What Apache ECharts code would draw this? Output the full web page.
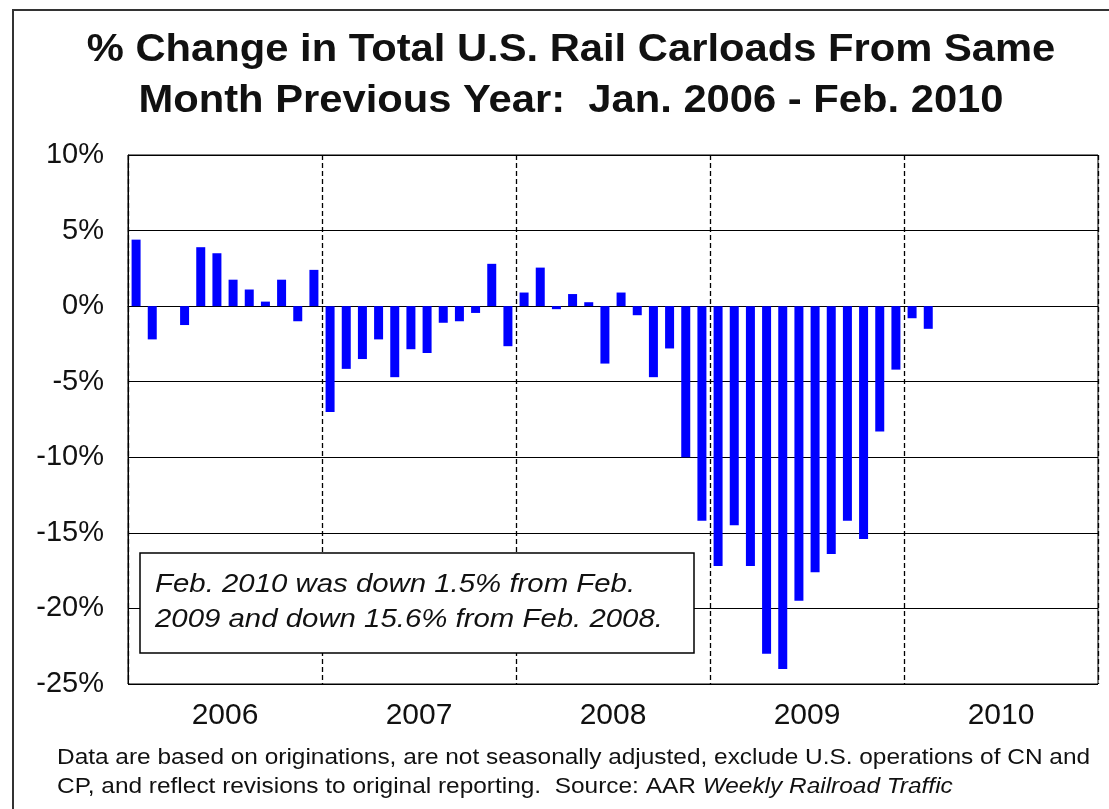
<!DOCTYPE html>
<html>
<head>
<meta charset="utf-8">
<title>% Change in Total U.S. Rail Carloads</title>
<script src="https://cdn.jsdelivr.net/npm/echarts@6/dist/echarts.min.js"></script>
<style>
  html, body { margin: 0; padding: 0; background: #ffffff; }
  #chart { width: 1109px; height: 809px; }
</style>
</head>
<body>
<div id="chart"></div>
<script>
// Year groups shown along the bottom axis
const years = ['2006', '2007', '2008', '2009', '2010'];
const monthNames = ['Jan', 'Feb', 'Mar', 'Apr', 'May', 'Jun', 'Jul', 'Aug', 'Sep', 'Oct', 'Nov', 'Dec'];

// % change in carloads vs. same month of the previous year
const pct2006 = [4.4, -2.2, 0.0, -1.25, 3.9, 3.5, 1.75, 1.1, 0.3, 1.75, -1.0, 2.4];
const pct2007 = [-7.0, -4.15, -3.5, -2.2, -4.7, -2.85, -3.1, -1.1, -1.0, -0.45, 2.8, -2.65];
const pct2008 = [0.9, 2.55, -0.2, 0.8, 0.26, -3.8, 0.9, -0.6, -4.7, -2.8, -10.0, -14.2];
const pct2009 = [-17.2, -14.5, -17.2, -23.0, -24.0, -19.5, -17.6, -16.4, -14.2, -15.4, -8.3, -4.2];
const pct2010 = [-0.8, -1.5, null, null, null, null, null, null, null, null, null, null];

// Y axis ticks
const yTicks = [-25, -20, -15, -10, -5, 0, 5, 10];

const titleLines = ['% Change in Total U.S. Rail Carloads From Same', 'Month Previous Year:  Jan. 2006 - Feb. 2010'];
const noteLines = ['Feb. 2010 was down 1.5% from Feb.', '2009 and down 15.6% from Feb. 2008.'];
const footLine1 = 'Data are based on originations, are not seasonally adjusted, exclude U.S. operations of CN and';
const footLine2 = 'CP, and reflect revisions to original reporting.  Source: AAR ';
const footSource = 'Weekly Railroad Traffic';

const months = [];
years.forEach(y => monthNames.forEach(m => months.push(m + ' ' + y)));
const values = [].concat(pct2006, pct2007, pct2008, pct2009, pct2010);

const FONT = '"Liberation Sans", Arial, Helvetica, sans-serif';
const chart = echarts.init(document.getElementById('chart'), null, { renderer: 'canvas' });

chart.setOption({
  backgroundColor: '#ffffff',
  animation: false,
  grid: {
    left: 128, right: 11, top: 155, bottom: 125,
    show: true, borderColor: '#000', borderWidth: 1, backgroundColor: 'transparent'
  },
  xAxis: [
    {
      type: 'category',
      data: months,
      boundaryGap: true,
      axisLine: { show: true, lineStyle: { color: '#000', width: 1 } },
      axisTick: { show: false },
      axisLabel: { show: false },
      splitLine: { show: false }
    },
    {
      type: 'category',
      data: years,
      position: 'bottom',
      boundaryGap: true,
      axisLine: { show: false },
      axisTick: { show: false },
      axisLabel: { show: true, interval: 0, margin: 17, fontSize: 30, color: '#111', fontFamily: FONT },
      splitLine: { show: true, interval: 0, lineStyle: { color: '#000', width: 1.3, type: [5, 3] } }
    }
  ],
  yAxis: {
    type: 'value',
    min: yTicks[0],
    max: yTicks[yTicks.length - 1],
    interval: 5,
    axisLine: { show: true, lineStyle: { color: '#000', width: 1 } },
    axisTick: { show: false },
    axisLabel: { margin: 24, fontSize: 29, color: '#111', fontFamily: FONT, formatter: '{value}%' },
    splitLine: { show: true, lineStyle: { color: '#000', width: 1 } }
  },
  series: [{
    type: 'bar',
    xAxisIndex: 0,
    data: values,
    barWidth: 9,
    itemStyle: { color: '#0000ff' },
    z: 1
  }],
  graphic: [
    // outer frame (top and left edges)
    {
      type: 'polyline', z: 100, silent: true,
      shape: { points: [[13, 809], [13, 10], [1109, 10]] },
      style: { stroke: '#333', lineWidth: 2, fill: null }
    },
    // title
    {
      type: 'text', z: 100, x: 571, y: 25, scaleX: 1.07,
      style: {
        text: titleLines.join('\n'),
        font: 'bold 39px ' + FONT, fill: '#111', align: 'center', lineHeight: 51
      }
    },
    // note box
    {
      type: 'rect', z: 100, shape: { x: 140, y: 553, width: 554, height: 100 },
      style: { fill: '#fff', stroke: '#000', lineWidth: 1.5 }
    },
    {
      type: 'text', z: 101, x: 155, y: 567, scaleX: 1.13,
      style: { text: noteLines.join('\n'), font: 'italic 26px ' + FONT, fill: '#111', lineHeight: 35 }
    },
    // footnote
    {
      type: 'text', z: 100, x: 57, y: 743, scaleX: 1.11,
      style: {
        text: '{n|' + footLine1 + '}\n{n|' + footLine2 + '}{i|' + footSource + '}',
        fill: '#111', lineHeight: 29,
        rich: {
          n: { font: '22px ' + FONT, fill: '#111', lineHeight: 29 },
          i: { font: 'italic 22px ' + FONT, fill: '#111', lineHeight: 29 }
        }
      }
    }
  ]
});
</script>
</body>
</html>
